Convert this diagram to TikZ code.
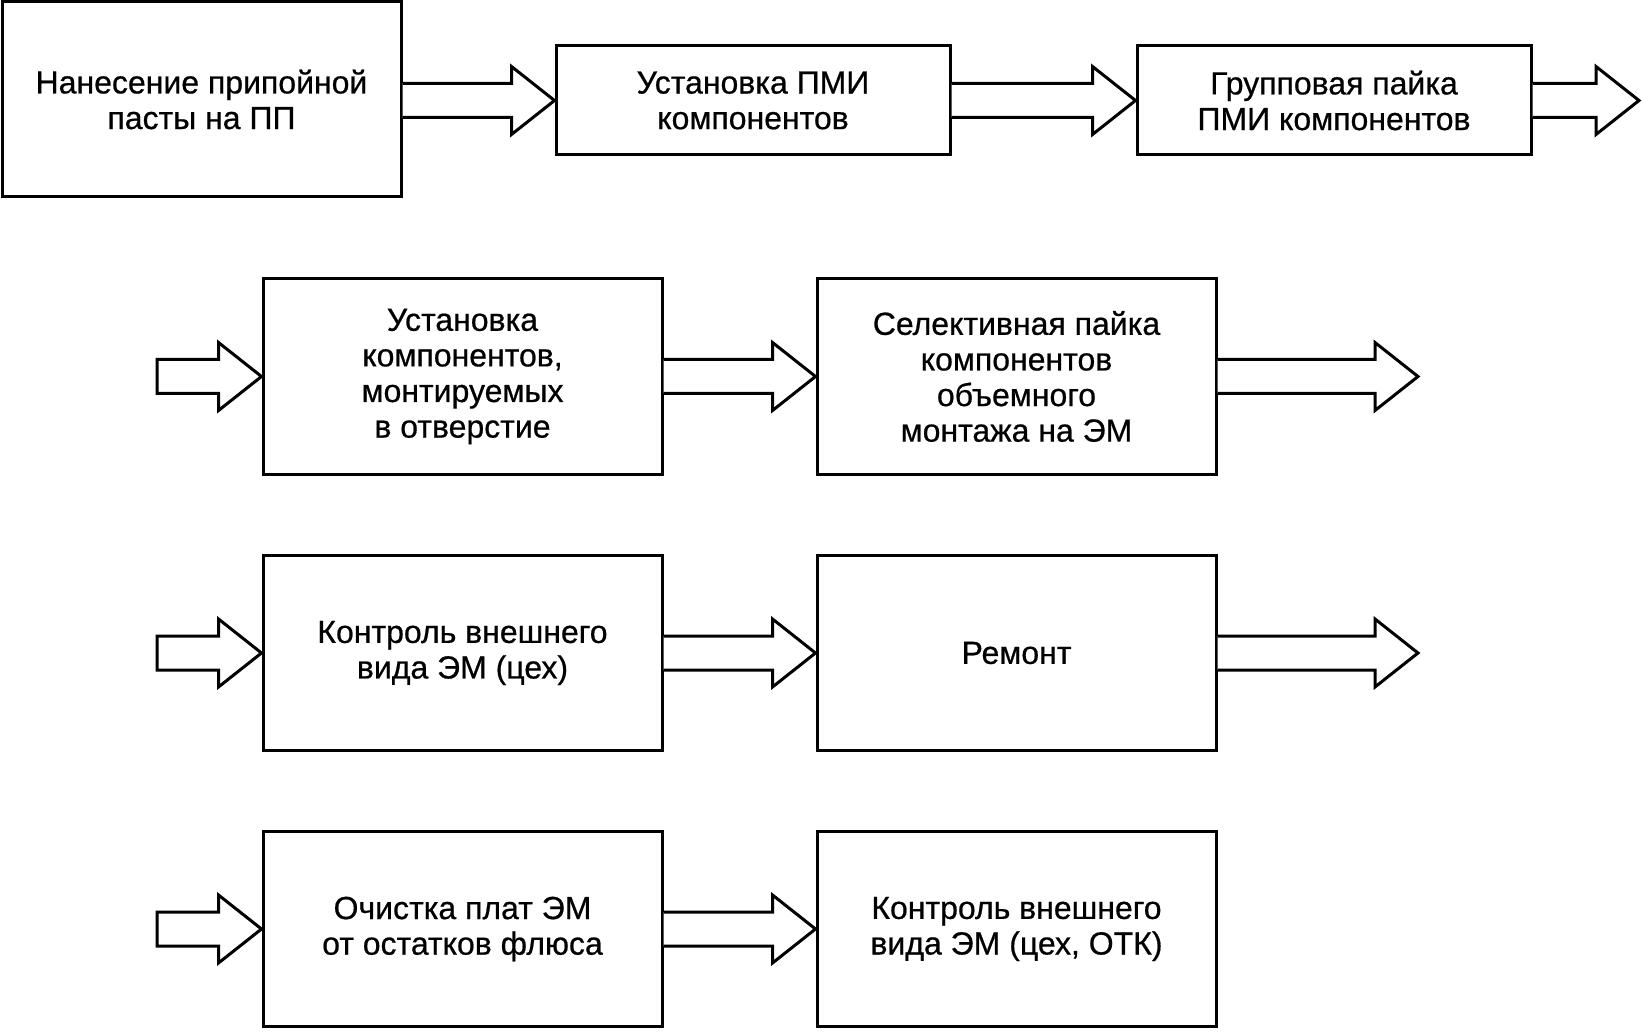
\documentclass[tikz,border=0pt]{standalone}
\usepackage{fontspec}
\setmainfont{Liberation Sans}[FakeBold=0.6]
\usetikzlibrary{calc}
\tikzset{
  stage/.style={draw=black, line width=3pt, rectangle, align=center, inner sep=0pt,
    font=\fontsize{32}{35.6}\selectfont},
  bigbox/.style={stage, minimum width=399pt, minimum height=195pt},
  smallbox/.style={stage, minimum width=394pt, minimum height=109pt},
  arr/.style={draw=black, line width=3pt, line join=miter, fill=white}
}
% hollow block arrow from #1 to #2 (same height), open at the start side
\newcommand\fatarr[2]{%
  \draw[arr] ($(#1)+(0,17)$) -- ($(#2)+(-43,17)$) -- ($(#2)+(-43,34)$) -- (#2)
    -- ($(#2)+(-43,-34)$) -- ($(#2)+(-43,-17)$) -- ($(#1)+(0,-17)$);}
% hollow block arrow closed at the start side
\newcommand\fatarrclosed[2]{%
  \draw[arr] ($(#1)+(0,17)$) -- ($(#2)+(-43,17)$) -- ($(#2)+(-43,34)$) -- (#2)
    -- ($(#2)+(-43,-34)$) -- ($(#2)+(-43,-17)$) -- ($(#1)+(0,-17)$) -- cycle;}
\begin{document}
\begin{tikzpicture}[x=1pt, y=-1pt]
\useasboundingbox (0,0) rectangle (1642,1032);
\fill[white] (0,0) rectangle (1642,1032);

% row 1
\node[bigbox] (b1) at (201.5,99.5) {Нанесение припойной\\пасты на ПП};
\node[smallbox] (b2) at (753,100.5) {Установка ПМИ\\компонентов};
\node[smallbox] (b3) at (1334,100.5) {Групповая пайка\\ПМИ компонентов};
\coordinate (o1) at (1639,100.5);

% row 2
\node[bigbox] (b4) at (462.5,376.5) {Установка\\компонентов,\\монтируемых\\в отверстие};
\node[bigbox] (b5) at (1016.5,376.5) {Селективная пайка\\компонентов\\объемного\\монтажа на ЭМ};
\coordinate (i2) at (157,376.5);
\coordinate (o2) at (1418,376.5);

% row 3
\node[bigbox] (b6) at (462.5,653) {Контроль внешнего\\вида ЭМ (цех)};
\node[bigbox] (b7) at (1016.5,653) {Ремонт};
\coordinate (i3) at (157,653);
\coordinate (o3) at (1418,653);

% row 4
\node[bigbox] (b8) at (462.5,929) {Очистка плат ЭМ\\от остатков флюса};
\node[bigbox] (b9) at (1016.5,929) {Контроль внешнего\\вида ЭМ (цех, ОТК)};
\coordinate (i4) at (157,929);

% arrows
\fatarr{b1.east |- b2.west}{b2.west}
\fatarr{b2.east}{b3.west}
\fatarr{b3.east}{o1}
\fatarrclosed{i2}{b4.west}
\fatarr{b4.east}{b5.west}
\fatarr{b5.east}{o2}
\fatarrclosed{i3}{b6.west}
\fatarr{b6.east}{b7.west}
\fatarr{b7.east}{o3}
\fatarrclosed{i4}{b8.west}
\fatarr{b8.east}{b9.west}
\end{tikzpicture}
\end{document}
